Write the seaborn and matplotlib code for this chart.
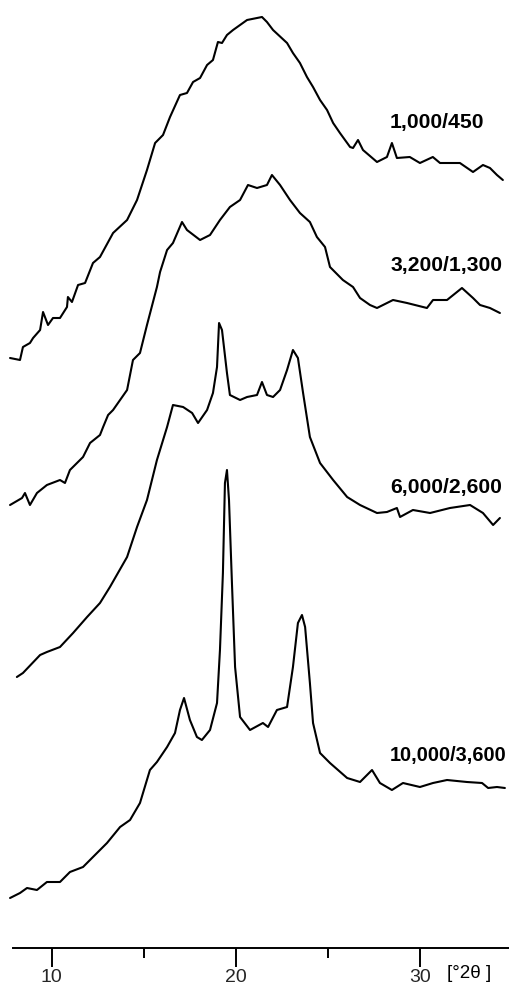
import numpy as np
import pandas as pd
import matplotlib
matplotlib.use("Agg")
import matplotlib.pyplot as plt
import seaborn as sns

# ---- data (2θ in degrees, intensity in arbitrary units above each curve's baseline) ----
two_theta_1 = [7.74, 8.28, 8.44, 8.82, 8.99, 9.37, 9.53, 9.80, 10.07, 10.45, 10.83, 10.88, 11.10,
               11.43, 11.81, 12.24, 12.62, 13.33, 14.09, 14.63, 15.17, 15.61, 16.04, 16.42, 16.96,
               17.34, 17.67, 18.05, 18.43, 18.75, 19.02, 19.24, 19.51, 19.84, 20.60, 21.41, 21.68,
               22.01, 22.77, 23.09, 23.47, 23.85, 24.18, 24.56, 24.94, 25.27, 25.64, 26.19, 26.35,
               26.62, 26.89, 27.65, 28.19, 28.46, 28.73, 29.43, 29.98, 30.68, 31.07, 32.15, 32.86,
               33.40, 33.78, 34.16, 34.48]
intensity_1 = [0, -2, 11, 15, 20, 28, 46, 33, 40, 40, 51, 61, 56,
               73, 75, 95, 101, 125, 138, 158, 188, 215, 223, 241, 263,
               265, 276, 280, 293, 298, 316, 315, 323, 328, 338, 341, 336,
               328, 315, 305, 295, 281, 271, 258, 248, 235, 225, 211, 210,
               218, 208, 196, 201, 215, 200, 201, 195, 201, 195, 195, 186,
               193, 190, 183, 178]

two_theta_2 = [7.74, 8.39, 8.55, 8.82, 9.20, 9.74, 10.45, 10.72, 10.99, 11.70, 12.08, 12.62, 12.79,
               13.06, 13.33, 14.09, 14.41, 14.79, 15.17, 15.71, 15.88, 16.26, 16.58, 17.07, 17.34,
               18.05, 18.59, 19.13, 19.67, 20.22, 20.65, 21.14, 21.68, 21.95, 22.39, 22.93, 23.47,
               24.01, 24.39, 24.83, 25.10, 25.80, 26.35, 26.73, 27.27, 27.65, 28.52, 29.28, 30.36,
               30.69, 31.45, 32.26, 32.86, 33.24, 33.78, 34.32]
intensity_2 = [0, 7, 12, 0, 12, 20, 25, 22, 35, 48, 62, 70, 78,
               90, 95, 115, 145, 152, 180, 218, 233, 255, 262, 283, 275,
               265, 270, 285, 298, 305, 320, 317, 320, 330, 320, 305, 292,
               283, 268, 258, 238, 225, 218, 207, 200, 197, 205, 202, 197,
               205, 205, 217, 207, 200, 197, 192]

two_theta_3 = [8.11, 8.44, 9.37, 9.74, 10.45, 11.16, 11.92, 12.62, 13.16, 14.09, 14.63, 15.17, 15.71,
               16.26, 16.58, 17.13, 17.62, 17.94, 18.43, 18.75, 18.97, 19.08, 19.24, 19.51, 19.67,
               20.22, 20.60, 21.14, 21.41, 21.68, 22.01, 22.39, 22.77, 23.09, 23.36, 23.64, 24.01,
               24.56, 25.27, 26.03, 26.73, 27.65, 28.19, 28.73, 28.90, 29.60, 30.53, 31.61, 32.70,
               33.40, 33.95, 34.32]
intensity_3 = [0, 4, 22, 25, 30, 44, 60, 74, 90, 120, 150, 177, 217,
               250, 272, 270, 264, 254, 267, 284, 310, 354, 347, 304, 282,
               277, 280, 282, 295, 282, 280, 287, 307, 327, 319, 284, 240,
               214, 197, 180, 172, 164, 165, 169, 160, 167, 164, 169, 172,
               164, 152, 159]

two_theta_4 = [7.74, 8.28, 8.66, 9.20, 9.74, 10.45, 10.99, 11.70, 12.24, 13.00, 13.71, 14.25, 14.79,
               15.33, 15.71, 16.26, 16.69, 16.96, 17.18, 17.50, 17.88, 18.15, 18.59, 18.97, 19.13,
               19.29, 19.40, 19.51, 19.62, 19.78, 19.95, 20.22, 20.76, 21.46, 21.74, 22.22, 22.77,
               23.09, 23.36, 23.58, 23.75, 24.01, 24.18, 24.56, 25.10, 26.03, 26.73, 27.38, 27.81,
               28.46, 29.06, 29.98, 30.69, 31.45, 32.53, 33.35, 33.68, 34.16, 34.59]
intensity_4 = [0, 5, 10, 8, 16, 16, 26, 31, 41, 55, 71, 78, 95,
               128, 136, 151, 165, 188, 200, 178, 161, 158, 168, 195, 248,
               325, 415, 428, 398, 315, 231, 181, 168, 175, 171, 188, 191,
               231, 275, 283, 271, 215, 175, 145, 135, 120, 116, 128, 115,
               108, 115, 111, 115, 118, 116, 115, 110, 111, 110]

sample_labels = ["1,000/450", "3,200/1,300", "6,000/2,600", "10,000/3,600"]
stack_offsets = [590, 443, 271, 50]
major_ticks = [10, 20, 30]
minor_ticks = [15, 25]
axis_label = "[°2θ ]"

# ---- build long table ----
frames = []
for lab, off, tt, inten in zip(sample_labels, stack_offsets,
                               [two_theta_1, two_theta_2, two_theta_3, two_theta_4],
                               [intensity_1, intensity_2, intensity_3, intensity_4]):
    frames.append(pd.DataFrame({"two_theta": tt,
                                "signal": np.asarray(inten, float) + off,
                                "sample": lab}))
df = pd.concat(frames, ignore_index=True)

sns.set_theme(style="white")
plt.rcParams['font.family'] = ['Liberation Sans', 'DejaVu Sans']

W, H = 510, 986
fig = plt.figure(figsize=(W / 100, H / 100), dpi=100)
ax = fig.add_axes([0, 38 / H, 1, 948 / H])

sns.lineplot(data=df, x="two_theta", y="signal", hue="sample", units="sample",
             estimator=None, palette=["black"] * 4, linewidth=1.5, legend=False,
             ax=ax, sort=False)

ax.set_xlim(7.195, 34.867)
ax.set_ylim(0, 948)
ax.set_xlabel("")
ax.set_ylabel("")
ax.set_yticks([])
for s in ["left", "top", "right"]:
    ax.spines[s].set_visible(False)
ax.spines["bottom"].set_color("black")
ax.spines["bottom"].set_linewidth(1.4)
ax.spines["bottom"].set_bounds(7.90, 34.867)

ax.set_xticks(major_ticks)
ax.set_xticks(minor_ticks, minor=True)
ax.set_xticklabels([str(t) for t in major_ticks])
ax.tick_params(axis="x", which="major", direction="out", length=13.5, width=1.4,
               color="black", labelsize=14, pad=1.5, bottom=True)
ax.tick_params(axis="x", which="minor", direction="out", length=7.2, width=1.4,
               color="black", bottom=True)

label_y = [826, 683, 461, 193]
label_size = [15.2, 15.2, 15.2, 14.4]
for lab, yy, fs in zip(sample_labels, label_y, label_size):
    ax.text(28.36, yy, lab, fontsize=fs, fontweight="bold", va="center", ha="left",
            color="black", clip_on=False)

fig.text(447 / W, 1 - 973 / H, axis_label, fontsize=13.5, va="center", ha="left", color="black")

fig.savefig("out.png", dpi=100, facecolor="white")
